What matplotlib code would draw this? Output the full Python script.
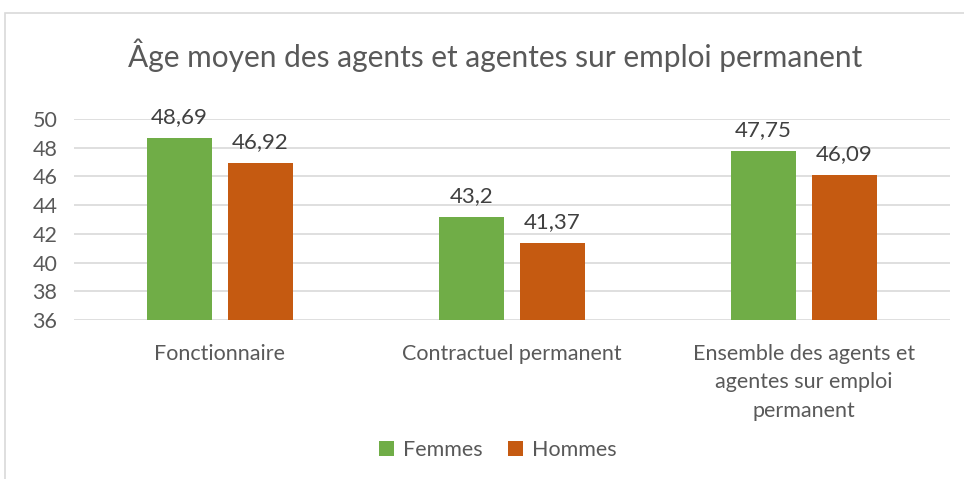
import matplotlib.pyplot as plt
import numpy as np
from matplotlib.patches import Rectangle

plt.rcParams['font.family'] = ['Lato', 'DejaVu Sans']

categories = ['Fonctionnaire', 'Contractuel permanent',
              'Ensemble des agents et\nagentes sur emploi\npermanent']
femmes = [48.69, 43.2, 47.75]
hommes = [46.92, 41.37, 46.09]
series_names = ['Femmes', 'Hommes']
colors = ['#70ad47', '#c55a11']
yticks = [36, 38, 40, 42, 44, 46, 48, 50]

W, H = 964, 479
fig = plt.figure(figsize=(W / 100, H / 100), dpi=100)
ax = fig.add_axes([74 / W, 1 - 320 / H, (950 - 74) / W, (320 - 119) / H])

# chart border (cropped on the right and bottom)
fig.patches.append(Rectangle((5 / W, -0.1), 1.2, 1 - 13 / H + 0.1,
                             transform=fig.transFigure, fill=False,
                             edgecolor='#d9d9d9', lw=1.2))

x = np.arange(len(categories))
w = 0.223
gap = 0.055
off = (w + gap) / 2
for vals, c, name, sgn in [(femmes, colors[0], series_names[0], -1),
                           (hommes, colors[1], series_names[1], 1)]:
    ax.bar(x + sgn * off, np.array(vals) - 36, w, bottom=36,
           color=c, label=name, zorder=3)
    for xi, v in zip(x + sgn * off, vals):
        ax.text(xi, v + 0.75, f'{v:g}'.replace('.', ','), ha='center',
                va='bottom', fontsize=16, color='#404040')

ax.set_xlim(-0.5, 2.5)
ax.set_ylim(36, 50)
ax.set_yticks(yticks)
ax.grid(axis='y', color='#d9d9d9', lw=1.2, zorder=0)
for s in ax.spines.values():
    s.set_visible(False)
ax.tick_params(axis='both', length=0, labelsize=15.5, labelcolor='#595959')
ax.tick_params(axis='y', pad=12)
ax.tick_params(axis='x', pad=17)
ax.set_xticks(x)
ax.set_xticklabels(categories, linespacing=1.55)

fig.suptitle('Âge moyen des agents et agentes sur emploi permanent',
             x=495 / W, y=1 - 55 / H, va='center', fontsize=21.5,
             color='#595959')

fig.legend(loc='center', bbox_to_anchor=(498 / W, 1 - 450 / H), ncol=2,
           frameon=False, fontsize=15.5, labelcolor='#595959',
           handlelength=0.7, handleheight=0.7, handletextpad=0.4,
           columnspacing=1.2)

fig.savefig('out.png', dpi=100)
